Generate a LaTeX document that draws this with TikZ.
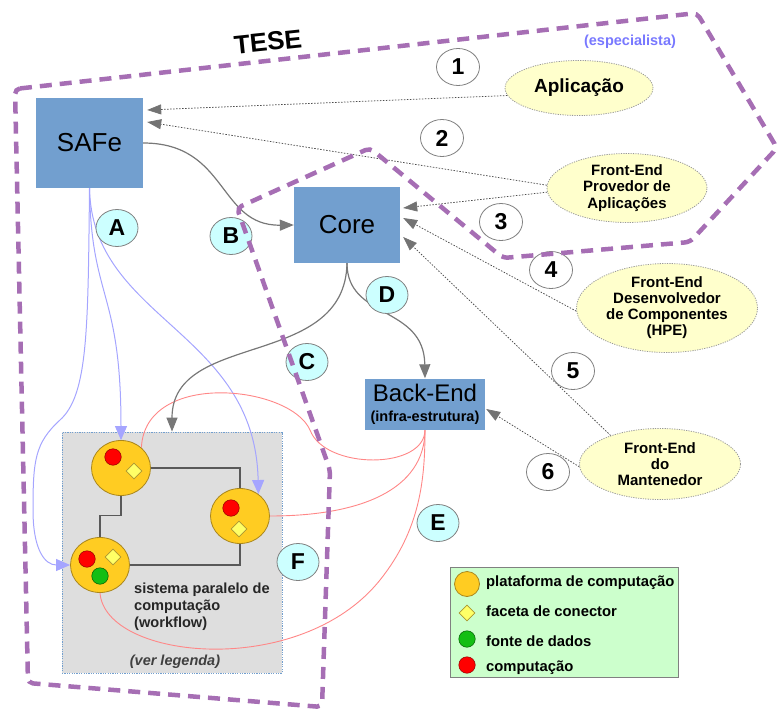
\documentclass[tikz,border=0pt]{standalone}
\usepackage{fontspec}
\setmainfont{Liberation Sans}
\usetikzlibrary{shapes.geometric,arrows.meta}
\pgfdeclarelayer{bottom}
\pgfdeclarelayer{links}
\pgfsetlayers{bottom,links,main}
\newcommand{\fsz}[2]{\fontsize{#1}{#2}\selectfont}

\definecolor{boxblue}{HTML}{729FCF}
\definecolor{tesepurple}{RGB}{166,110,180}
\definecolor{labelcyan}{HTML}{CCFFFF}
\definecolor{noteyellow}{HTML}{FFFFCC}
\definecolor{platorange}{HTML}{FFCC22}
\definecolor{platedge}{RGB}{170,135,30}
\definecolor{legendgreen}{HTML}{CCFFCC}
\definecolor{facetyellow}{HTML}{FFFF66}
\definecolor{facetedge}{RGB}{170,150,50}
\definecolor{linkblue}{RGB}{165,165,255}
\definecolor{linkred}{RGB}{255,135,135}
\definecolor{linkgray}{RGB}{120,120,120}
\definecolor{speccolor}{RGB}{120,120,255}
\definecolor{datagreen}{RGB}{20,190,20}

\begin{document}
\begin{tikzpicture}[x=1pt,y=-1pt,
  compbox/.style={rectangle, fill=boxblue, inner sep=0pt},
  letterlabel/.style={ellipse, draw=gray, line width=0.8pt, fill=labelcyan,
    minimum width=42pt, minimum height=37pt, inner sep=0pt, font=\bfseries\fsz{23}{23}},
  numlabel/.style={ellipse, draw=gray, line width=0.8pt, fill=white,
    minimum width=43pt, minimum height=37pt, inner sep=0pt, font=\bfseries\fsz{23}{23}},
  actor/.style={ellipse, draw=gray!80, dash pattern=on 1.2pt off 1.2pt, line width=0.8pt,
    fill=noteyellow, inner sep=0pt, align=center, font=\bfseries\fsz{15}{16.3}},
  platform/.style={ellipse, draw=platedge, line width=0.8pt, fill=platorange,
    minimum width=59pt, minimum height=55pt, inner sep=0pt},
  compdot/.style={circle, fill=red, draw=red!55!black, line width=0.5pt,
    minimum size=16.5pt, inner sep=0pt},
  datadot/.style={circle, fill=datagreen, draw=green!35!black, line width=0.5pt,
    minimum size=16.5pt, inner sep=0pt},
  facet/.style={diamond, fill=facetyellow, draw=facetedge, line width=0.6pt,
    minimum width=16pt, minimum height=16pt, inner sep=0pt},
  wire/.style={draw=gray!70!black, line width=1.1pt},
  grayarrow/.style={draw=linkgray, line width=1.2pt, -{Triangle[length=14pt,width=11pt]}},
  bluearrow/.style={draw=linkblue, line width=1pt, -{Triangle[length=14pt,width=12pt]}},
  redlink/.style={draw=linkred, line width=0.9pt},
  dotarrow/.style={draw=gray!60!black, line width=0.75pt, dash pattern=on 1.5pt off 1.5pt,
    -{Triangle[length=14pt,width=10pt,color=gray!90!black]}},
  legtext/.style={anchor=base west, inner sep=0pt, font=\bfseries\fsz{14.8}{16}},
]
\useasboundingbox (0,0) rectangle (779,709);

% parallel computing system and legend panels
\begin{pgfonlayer}{bottom}
  \node[rectangle, fill=black!13, draw=boxblue, dash pattern=on 1.2pt off 1.2pt,
        line width=0.8pt, minimum width=220pt, minimum height=241pt, inner sep=0pt]
        (sys) at (172,552.5) {};
  \node[rectangle, fill=legendgreen, draw=gray, line width=1pt,
        minimum width=228pt, minimum height=110pt, inner sep=0pt]
        (leg) at (564,622) {};
\end{pgfonlayer}

% main components
\node[compbox, minimum width=107pt, minimum height=90pt, font=\fsz{26}{28}] (safe) at (89.5,143) {SAFe};
\node[compbox, minimum width=106pt, minimum height=76pt, font=\fsz{26}{28}] (core) at (347,225) {Core};
\node[compbox, minimum width=120pt, minimum height=51pt, align=center, font=\fsz{24}{20}]
  (be) at (425,404) {Back-End\\{\bfseries\fsz{14.5}{20}(infra-estrutura)}};

% front-ends
\node[actor, minimum width=148pt, minimum height=55pt, font=\bfseries\fsz{19}{20}] (apl) at (579,88) {Aplicação};
\node[actor, minimum width=160pt, minimum height=69pt] (prov) at (627,188) {Front-End\\Provedor de\\Aplicações};
\node[actor, minimum width=181pt, minimum height=89pt, font=\bfseries\fsz{15}{16}] (hpe) at (667,308) {Front-End\\Desenvolvedor\\de Componentes\\(HPE)};
\node[actor, minimum width=161pt, minimum height=71pt] (mant) at (660,464) {Front-End\\do\\Mantenedor};

% computing platforms
\node[platform] (p1) at (121,468) {};
\node[platform] (p2) at (240,516) {};
\node[platform] (p3) at (100,565) {};
\node[compdot] (p1c) at (113,457) {};
\node[facet]   (p1f) at (134,471) {};
\node[compdot] (p2c) at (231,508) {};
\node[facet]   (p2f) at (239,529) {};
\node[compdot] (p3c) at (87,559) {};
\node[facet]   (p3f) at (113,557) {};
\node[datadot] (p3d) at (100,576) {};

\node[anchor=north west, inner sep=0pt, align=left, font=\bfseries\fsz{14.6}{17}, text=black!85]
  (systext) at (134,583) {sistema paralelo de\\computação\\(workflow)};
\node[inner sep=0pt, font=\bfseries\itshape\fsz{14.5}{16}, text=black!75] (verleg) at (175,662) {(ver legenda)};

% legend entries
\node[platform, minimum width=25pt, minimum height=25pt] (lg1) at (467,584) {};
\node[facet] (lg2) at (467,613) {};
\node[datadot] (lg3) at (467,639) {};
\node[compdot] (lg4) at (467,665) {};
\node[legtext] (lt1) at (486,586) {plataforma de computação};
\node[legtext] (lt2) at (486,616) {faceta de conector};
\node[legtext] (lt3) at (486,646) {fonte de dados};
\node[legtext] (lt4) at (486,671) {computação};

% connectors
\begin{pgfonlayer}{links}
  % links between platforms
  \draw[wire] (p1.east) -| (p2.north);
  \draw[wire] (p1.south) -- ++(0,20) -| (p3.north);
  \draw[wire] (p3.east) -| (p2.south);
  % SAFe to the platforms
  \draw[bluearrow] (safe.south) .. controls (91,300) and (121,290) .. (p1.north);
  \draw[bluearrow] (safe.south) .. controls (92,320) and (255,330) .. (p2.50);
  \draw[bluearrow] (safe.south) .. controls (88,330) and (88,395) .. (60,420)
    .. controls (35,443) and (33,460) .. (33,510)
    .. controls (33,550) and (45,565) .. (p3.west);
  % Back-End to the platforms
  \draw[redlink] (p1.45) .. controls (145,370) and (290,385) .. (310,430)
    .. controls (325,470) and (425,470) .. (be.south);
  \draw[redlink] (p2.east) .. controls (360,516) and (425,490) .. (be.south);
  \draw[redlink] (p3.south) .. controls (105,660) and (300,680) .. (380,580)
    .. controls (420,530) and (425,480) .. (be.south);
  % SAFe / Core / Back-End
  \draw[grayarrow] (safe.east) .. controls (228,143) and (218,226) .. (core.west);
  \draw[grayarrow] (core.south) .. controls (347,320) and (424,305) .. (be.north);
  \draw[grayarrow] (core.south) .. controls (345,370) and (172,330) .. (sys.north);
  % front-ends
  \draw[dotarrow] (apl.186) -- ([shift={(4,-33)}]safe.east);
  \draw[dotarrow] (prov.178) -- ([shift={(4,-21)}]safe.east);
  \draw[dotarrow] (prov.183) -- ([shift={(3,-17)}]core.east);
  \draw[dotarrow] (hpe.182) -- ([shift={(3,-7)}]core.east);
  \draw[dotarrow] (mant.150) -- ([shift={(3,12)}]core.east);
  \draw[dotarrow] (mant.182) -- ([shift={(1,5)}]be.east);
\end{pgfonlayer}

% interaction labels
\node[letterlabel] (la) at (117,228) {A};
\node[letterlabel] (lb) at (231,236) {B};
\node[letterlabel] (lc) at (307,362) {C};
\node[letterlabel] (ld) at (387,295) {D};
\node[letterlabel] (le) at (438,523) {E};
\node[letterlabel] (lf) at (298,562) {F};
\node[numlabel] (n1) at (458,67) {1};
\node[numlabel] (n2) at (442,138) {2};
\node[numlabel] (n3) at (501,222) {3};
\node[numlabel] (n4) at (551,270) {4};
\node[numlabel] (n5) at (573,371) {5};
\node[numlabel] (n6) at (548,472) {6};

% thesis boundary
\draw[tesepurple, line width=4.5pt, dash pattern=on 12pt off 8pt, rounded corners=5pt]
  (15,89) -- (697,13) -- (777,148) -- (690,242) -- (503,258) -- (370,148)
  -- (237,208) -- (330,470) -- (322,707) -- (28,683) -- cycle;
\node[rotate=6, inner sep=0pt, font=\bfseries\fsz{26}{26}] (tese) at (268,42) {TESE};
\node[inner sep=0pt, font=\bfseries\fsz{14.5}{16}, text=speccolor] (spec) at (630,42) {(especialista)};
\end{tikzpicture}
\end{document}
